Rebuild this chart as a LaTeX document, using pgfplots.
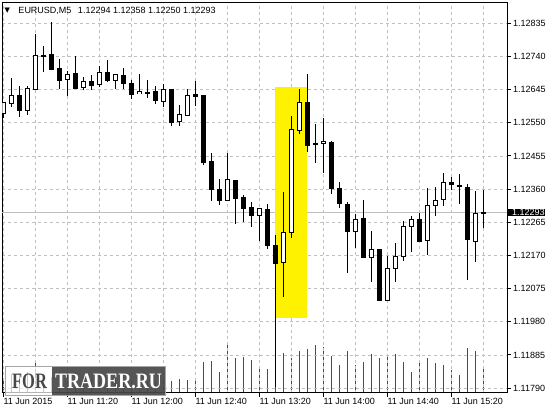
\documentclass[border=0pt]{standalone}
\usepackage{pgfplots}
\pgfplotsset{compat=1.18}
\usepackage{pgfplotstable}
\usepackage{fontspec}
\setmainfont{Liberation Sans}
\newfontfamily\symfont{DejaVu Sans}
\newfontfamily\wmfont{Liberation Serif}
\definecolor{gridgray}{RGB}{192,192,192}
\definecolor{volgreen}{RGB}{0,128,0}
\definecolor{wmdark}{RGB}{72,72,72}

\pgfplotstableread{
k o h l c
0 1.12576 1.12611 1.12563 1.12608
1 1.12608 1.12679 1.12598 1.12629
2 1.12629 1.12655 1.12569 1.12586
3 1.12586 1.12657 1.12574 1.12649
4 1.12647 1.12804 1.12644 1.12743
5 1.12743 1.12770 1.12696 1.12740
6 1.12746 1.12840 1.12702 1.12705
7 1.12708 1.12735 1.12647 1.12673
8 1.12674 1.12699 1.12627 1.12688
9 1.12691 1.12741 1.12647 1.12650
10 1.12651 1.12683 1.12644 1.12668
11 1.12671 1.12688 1.12644 1.12658
12 1.12662 1.12715 1.12653 1.12694
13 1.12694 1.12732 1.12667 1.12673
14 1.12671 1.12691 1.12647 1.12688
15 1.12685 1.12708 1.12647 1.12664
16 1.12665 1.12674 1.12618 1.12633
17 1.12633 1.12689 1.12632 1.12639
18 1.12637 1.12675 1.12623 1.12635
19 1.12639 1.12657 1.12604 1.12615
20 1.12613 1.12662 1.12595 1.12645
21 1.12646 1.12649 1.12543 1.12551
22 1.12553 1.12603 1.12543 1.12573
23 1.12573 1.12648 1.12572 1.12631
24 1.12631 1.12672 1.12598 1.12627
25 1.12629 1.12630 1.12431 1.12437
26 1.12439 1.12463 1.12327 1.12359
27 1.12361 1.12390 1.12316 1.12330
28 1.12330 1.12463 1.12330 1.12389
29 1.12387 1.12388 1.12260 1.12335
30 1.12338 1.12344 1.12266 1.12306
31 1.12309 1.12324 1.12254 1.12285
32 1.12285 1.12307 1.12211 1.12305
33 1.12302 1.12318 1.12189 1.12198
34 1.12199 1.12229 1.11794 1.12149
35 1.12149 1.12352 1.12051 1.12236
36 1.12236 1.12571 1.12221 1.12530
37 1.12530 1.12648 1.12517 1.12610
38 1.12610 1.12689 1.12467 1.12486
39 1.12492 1.12545 1.12434 1.12489
40 1.12492 1.12563 1.12407 1.12498
41 1.12495 1.12497 1.12348 1.12362
42 1.12363 1.12381 1.12307 1.12319
43 1.12317 1.12324 1.12120 1.12238
44 1.12238 1.12289 1.12194 1.12274
45 1.12277 1.12329 1.12163 1.12163
46 1.12164 1.12240 1.12094 1.12187
47 1.12187 1.12187 1.12043 1.12043
48 1.12043 1.12170 1.12043 1.12135
49 1.12135 1.12205 1.12094 1.12167
50 1.12167 1.12269 1.12155 1.12253
51 1.12253 1.12283 1.12181 1.12274
52 1.12274 1.12291 1.12212 1.12212
53 1.12213 1.12364 1.12172 1.12314
54 1.12314 1.12367 1.12285 1.12328
55 1.12331 1.12407 1.12313 1.12380
56 1.12381 1.12397 1.12358 1.12373
57 1.12372 1.12404 1.12319 1.12369
58 1.12366 1.12375 1.12100 1.12215
59 1.12210 1.12355 1.12152 1.12291
60 1.12294 1.12358 1.12250 1.12293
}\candles

\pgfplotstableread{
k v
0 127
1 187
2 187
3 210
4 300
5 180
6 160
7 210
8 200
9 210
10 160
11 140
12 177
13 160
14 140
15 127
16 120
17 120
18 127
19 110
20 130
21 120
22 137
23 127
24 127
25 307
26 317
27 207
28 487
29 347
30 360
31 327
32 267
33 237
34 110
35 397
36 350
37 417
38 437
39 477
40 457
41 370
42 280
43 417
44 280
45 307
46 387
47 347
48 377
49 387
50 307
51 207
52 327
53 347
54 297
55 277
56 227
57 177
58 447
59 417
60 267
}\volumes

\begin{document}
\fontsize{9bp}{10bp}\selectfont
\begin{tikzpicture}
\path[use as bounding box] (0,0) rectangle (550bp,410bp);

% volumes
\begin{axis}[
  at={(2.3bp,17.3bp)}, anchor=south west,
  scale only axis, width=504.7bp, height=390bp,
  xmin=-0.13, xmax=62.96, ymin=0, ymax=3900,
  hide axis,
]
\addplot[ycomb, draw=volgreen, line width=1.1bp, mark=none] table[x=k, y=v] {\volumes};
\end{axis}

% price
\begin{axis}[
  at={(2.3bp,17.3bp)}, anchor=south west,
  scale only axis, width=504.7bp, height=390bp,
  xmin=-0.13, xmax=62.96, ymin=1.11777, ymax=1.12894,
  axis line style={black, line width=1bp},
  tick align=outside, major tick length=4bp, minor tick length=0pt,
  tick style={black, line width=1bp},
  xtick pos=bottom, ytick pos=right, yticklabel pos=right,
  xtick={0,8,16,24,32,40,48,56},
  xticklabels={11 Jun 2015,11 Jun 11:20,11 Jun 12:00,11 Jun 12:40,11 Jun 13:20,11 Jun 14:00,11 Jun 14:40,11 Jun 15:20},
  minor xtick={4,12,20,28,36,44,52,60},
  ytick={1.11790,1.11885,1.11980,1.12075,1.12170,1.12265,1.12360,1.12455,1.12550,1.12645,1.12740,1.12835},
  yticklabels={1.11790,1.11885,1.11980,1.12075,1.12170,1.12265,1.12360,1.12455,1.12550,1.12645,1.12740,1.12835},
  xmajorgrids=true, xminorgrids=true, ymajorgrids=true,
  major grid style={draw=gridgray, line width=0.8bp, dash pattern=on 3bp off 3bp},
  minor grid style={draw=gridgray, line width=0.8bp, dash pattern=on 3bp off 3bp},
  xticklabel style={anchor=north west, inner sep=0pt, yshift=-1.6bp, font=\fontsize{9bp}{10bp}\selectfont},
  yticklabel style={anchor=west, inner sep=0pt, xshift=2bp, font=\fontsize{9bp}{10bp}\selectfont},
  extra y ticks={1.12293},
  extra y tick labels={\hspace*{4bp}1.12293},
  extra y tick style={
    major grid style={solid, draw=gridgray, line width=0.8bp},
    tick label style={fill=black, text=white, inner xsep=1bp, inner ysep=1.6bp, xshift=-5bp},
  },
]
% highlight
\addplot[fill=yellow, draw=none, forget plot] coordinates {(33.96,1.11992) (37.96,1.11992) (37.96,1.12652) (33.96,1.12652)} -- cycle;
% wicks
\addplot[draw=none, mark=none, forget plot,
  error bars/.cd, y dir=both, y explicit, error mark=none,
  error bar style={draw=black, line width=1bp}]
  table[x=k, y expr={(\thisrow{h}+\thisrow{l})/2}, y error expr={(\thisrow{h}-\thisrow{l})/2}] {\candles};
% bodies outline / bear fill
\addplot[draw=none, mark=none, forget plot,
  error bars/.cd, y dir=both, y explicit, error mark=none,
  error bar style={draw=black, line width=5bp}]
  table[x=k, y expr={(\thisrow{o}+\thisrow{c})/2}, y error expr={abs(\thisrow{c}-\thisrow{o})/2+0.0000143}] {\candles};
% bull inner
\addplot[draw=none, mark=none, forget plot,
  restrict expr to domain={\thisrow{c}-\thisrow{o}}{0.00002:1},
  error bars/.cd, y dir=both, y explicit, error mark=none,
  error bar style={draw=white, line width=3bp}]
  table[x=k, y expr={(\thisrow{o}+\thisrow{c})/2}, y error expr={(\thisrow{c}-\thisrow{o})/2-0.0000143}] {\candles};
\end{axis}

% header
\node[anchor=west, inner sep=0pt] at (4.5bp,399.3bp) {\symfont\fontsize{7bp}{8bp}\selectfont ▼};
\node[anchor=west, inner sep=0pt] at (18.3bp,399.3bp) {EURUSD,M5\hspace{6.5bp}1.12294 1.12358 1.12250 1.12293};

% watermark
\fill[white, opacity=0.7] (5bp,14bp) rectangle (51.7bp,43.3bp);
\fill[wmdark, opacity=0.92] (51.7bp,14bp) rectangle (165bp,43.3bp);
\draw[gray!70, line width=1bp] (5bp,14bp) rectangle (165bp,43.3bp);
\node[inner sep=0pt, text=wmdark, xscale=0.75] at (29.5bp,28.5bp) {\wmfont\bfseries\fontsize{22bp}{24bp}\selectfont FOR};
\node[inner sep=0pt, text=white, xscale=0.82] at (108.5bp,28.5bp) {\wmfont\bfseries\fontsize{22bp}{24bp}\selectfont TRADER.RU};
\end{tikzpicture}
\end{document}
